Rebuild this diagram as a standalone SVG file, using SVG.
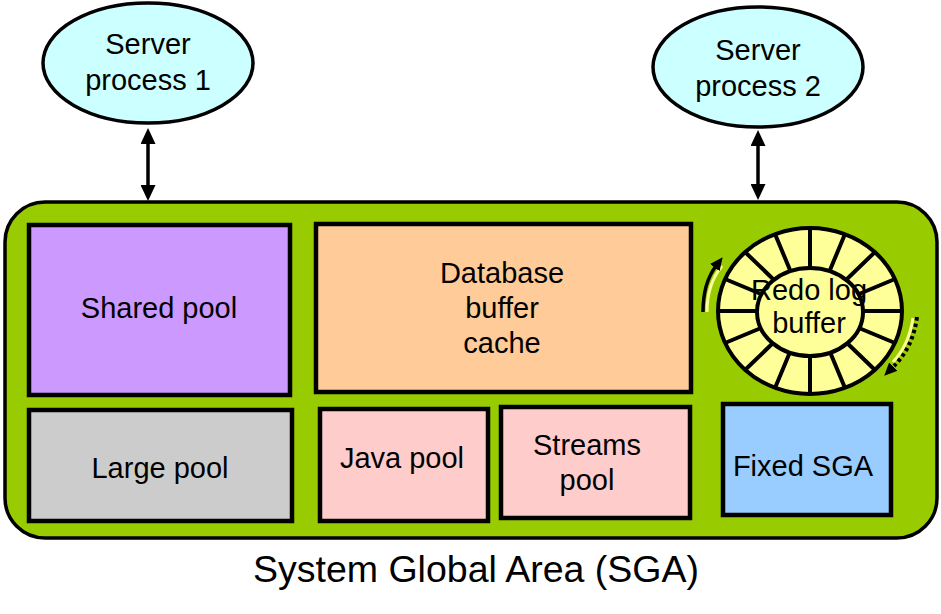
<svg xmlns="http://www.w3.org/2000/svg" width="941" height="614" viewBox="0 0 941 614">
<defs>
<style>
text{font-family:"Liberation Sans",Arial,sans-serif;font-size:29px;fill:#000;text-anchor:middle}
.box{stroke:#000;stroke-width:4.5}
.conn{stroke:#000;stroke-width:3.5;fill:none}
.spoke{stroke:#000;stroke-width:4;fill:none}
</style>
<marker id="ah" markerUnits="userSpaceOnUse" markerWidth="17" markerHeight="15" viewBox="0 0 17 15" refX="2" refY="7.5" orient="auto-start-reverse">
<path d="M0,0 L16,7.5 L0,15 z" fill="#000"/>
</marker>
<marker id="ahs" markerUnits="userSpaceOnUse" markerWidth="14" markerHeight="12" viewBox="0 0 14 12" refX="2" refY="6" orient="auto">
<path d="M0,0 L13,6 L0,12 z" fill="#000"/>
</marker>
</defs>
<rect width="941" height="614" fill="#fff"/>
<g id="sga">
<rect x="5" y="202" width="932" height="336" rx="40" ry="40" fill="#99CC00" stroke="#000" stroke-width="3.5"/>
<text x="476" y="582" style="font-size:37.5px">System Global Area (SGA)</text>
</g>
<g id="server1">
<ellipse cx="148" cy="63" rx="105" ry="60" fill="#CCFFFF" stroke="#000" stroke-width="3.5"/>
<text x="148" y="54">Server</text>
<text x="148" y="90">process 1</text>
</g>
<g id="server2">
<ellipse cx="758" cy="67" rx="105" ry="60" fill="#CCFFFF" stroke="#000" stroke-width="3.5"/>
<text x="758" y="60">Server</text>
<text x="758" y="96">process 2</text>
</g>
<g id="shared-pool">
<rect class="box" x="29" y="225" width="261" height="170" fill="#CC99FF"/>
<text x="159" y="318">Shared pool</text>
</g>
<g id="large-pool">
<rect class="box" x="29" y="410" width="263" height="111" fill="#CCCCCC"/>
<text x="160" y="478">Large pool</text>
</g>
<g id="db-buffer-cache">
<rect class="box" x="316" y="224" width="375" height="168" fill="#FFCC99"/>
<text x="502" y="283">Database</text>
<text x="502" y="318">buffer</text>
<text x="502" y="353">cache</text>
</g>
<g id="java-pool">
<rect class="box" x="320" y="409" width="168" height="112" fill="#FFCCCC"/>
<text x="402" y="468">Java pool</text>
</g>
<g id="streams-pool">
<rect class="box" x="501" y="407" width="189" height="111" fill="#FFCCCC"/>
<text x="587" y="455">Streams</text>
<text x="587" y="490">pool</text>
</g>
<g id="fixed-sga">
<rect class="box" x="723" y="404" width="168" height="111" fill="#99CCFF"/>
<text x="803" y="476">Fixed SGA</text>
</g>
<g id="redo-log-buffer">
<ellipse cx="810" cy="311" rx="92" ry="83" fill="#FFFF99" stroke="#000" stroke-width="4"/>
<path class="spoke" d="M902,311 L863,311 M895,343 L859,328 M875,370 L847,343 M845,388 L830,352 M810,394 L810,355 M775,388 L790,352 M745,370 L773,343 M725,343 L761,328 M718,311 L757,311 M725,279 L761,294 M745,252 L773,279 M775,234 L790,270 M810,228 L810,267 M845,234 L830,270 M875,252 L847,279 M895,279 L859,294"/>
<ellipse cx="810" cy="312" rx="53" ry="44" fill="#FFFF99" stroke="#000" stroke-width="4"/>
<text x="809" y="300">Redo log</text>
<text x="809" y="333">buffer</text>
<path d="M707,312 Q707,284 722,266" fill="none" stroke="#FFFF99" stroke-width="3"/>
<path d="M703,312 Q703,283 716,266" fill="none" stroke="#000" stroke-width="3.5" marker-end="url(#ahs)"/>
<path d="M913,318 Q909,345 893,362" fill="none" stroke="#FFFF99" stroke-width="3"/>
<path d="M917,317 Q913,347 894,366" fill="none" stroke="#000" stroke-width="4" stroke-dasharray="3.5,3"/>
<path d="M894,366 L892,368" fill="none" stroke="none" marker-end="url(#ahs)"/>
</g>
<g id="connectors">
<line class="conn" x1="148" y1="142" x2="148" y2="187" marker-start="url(#ah)" marker-end="url(#ah)"/>
<line class="conn" x1="758" y1="144" x2="758" y2="186" marker-start="url(#ah)" marker-end="url(#ah)"/>
</g>
</svg>
